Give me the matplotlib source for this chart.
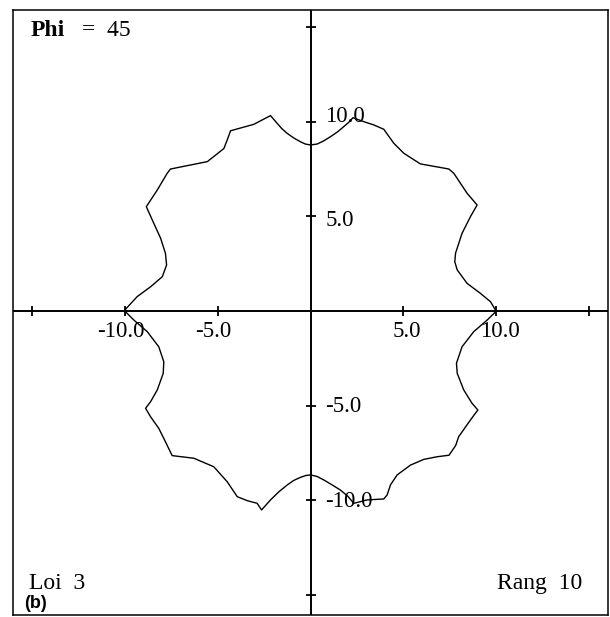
import matplotlib
matplotlib.use("Agg")
import matplotlib.pyplot as plt
from matplotlib.transforms import offset_copy

# Closed curve traced counter-clockwise, starting on the positive x axis
curve_x = [10.0, 9.95, 9.68, 9.14, 8.42, 7.89, 7.76, 7.80, 8.15, 8.60, 8.96, 8.42, 7.71, 7.44,
           5.91, 5.02, 4.48, 3.94, 3.40, 2.87, 2.28, 2.05, 1.79, 1.45, 1.08, 0.70, 0.36, 0.0,
           -0.28, -0.54, -0.90, -1.25, -1.55, -1.79, -2.15, -3.05, -4.30, -4.48, -4.66, -5.55,
           -7.53, -7.71, -8.24, -8.83, -8.51, -8.06, -7.80, -7.74, -7.97, -8.60, -9.32, -9.95,
           -9.95, -9.50, -8.78, -8.16, -7.89, -7.92, -8.24, -8.60, -8.87, -8.60, -8.16, -7.89,
           -7.44, -6.27, -5.20, -4.48, -3.94, -3.40, -2.87, -2.63, -2.15, -1.70, -1.25, -0.90,
           -0.54, -0.25, 0.0,
           0.35, 0.72, 1.15, 1.61, 2.00, 2.33, 3.05, 3.94, 4.12, 4.30, 4.66, 5.38, 6.09, 6.81,
           7.45, 7.81, 7.97, 8.60, 9.00, 8.69, 8.24, 7.89, 7.85, 8.15, 8.78, 9.50, 10.0]
curve_y = [0.0, 0.05, 0.49, 0.93, 1.46, 2.17, 2.60, 3.05, 4.10, 4.98, 5.60, 6.22, 7.27, 7.50,
           7.77, 8.33, 8.86, 9.60, 9.83, 10.0, 10.21, 9.96, 9.74, 9.46, 9.21, 8.98, 8.82, 8.77,
           8.82, 8.94, 9.14, 9.38, 9.64, 9.91, 10.32, 9.86, 9.52, 9.03, 8.58, 7.89,
           7.50, 7.27, 6.39, 5.51, 4.81, 3.84, 3.04, 2.43, 1.81, 1.28, 0.76, 0.09,
           -0.04, -0.48, -1.09, -1.89, -2.68, -3.29, -4.17, -4.79, -5.14, -5.59, -6.20, -6.73,
           -7.64, -7.78, -8.23, -9.02, -9.81, -10.02, -10.16, -10.51, -9.98, -9.55, -9.19, -8.95,
           -8.79, -8.69, -8.66,
           -8.74, -8.93, -9.18, -9.46, -9.78, -10.16, -9.98, -9.93, -9.72, -9.19, -8.66, -8.14,
           -7.84, -7.70, -7.62, -7.10, -6.64, -5.76, -5.23, -4.88, -4.17, -3.29, -2.76, -1.89,
           -1.09, -0.48, 0.0]

tick_values = [-15, -10, -5, 5, 10, 15]
labelled_ticks = [-10.0, -5.0, 5.0, 10.0]

W, H = 610, 617
fig = plt.figure(figsize=(W / 100, H / 100), dpi=100)
fig.patch.set_facecolor("white")

# Axes box in pixel terms: left 13, right 608, top 10, bottom 615
ax = fig.add_axes([13 / W, (H - 615) / H, 595 / W, 605 / H])
ax.set_xlim(-16, 16)
ax.set_ylim(-16.06, 15.90)
ax.set_xticks([])
ax.set_yticks([])
for sp in ax.spines.values():
    sp.set_linewidth(1.1)
    sp.set_color("black")

# Cartesian axes through the origin
ax.axhline(0, color="black", lw=1.4, zorder=2)
ax.axvline(0, color="black", lw=1.4, zorder=2)

# Cross-shaped tick marks
ax.plot(tick_values, [0] * len(tick_values), ls="none", marker="|", ms=7, mew=1.3, color="black")
ax.plot([0] * len(tick_values), tick_values, ls="none", marker="_", ms=7, mew=1.3, color="black")

serif = "Liberation Serif"
fs = 16.5

for v in labelled_ticks:
    dx = -4 if v < 0 else 3
    tr = offset_copy(ax.transData, fig=fig, x=dx * 0.72, y=-10 * 0.72, units="points")
    ax.text(v, 0, f"{v:.1f}", transform=tr, ha="center", va="top",
            family=serif, fontsize=fs, color="black")
    dy = 5 if v == 10 else (-4 if v == 5 else -1)
    tr2 = offset_copy(ax.transData, fig=fig, x=15 * 0.72, y=dy * 0.72, units="points")
    ax.text(0, v, f"{v:.1f}", transform=tr2, ha="left", va="center",
            family=serif, fontsize=fs, color="black")

# The curve
ax.plot(curve_x, curve_y, color="black", lw=1.0, zorder=3)

# Annotations
def px(x, y):
    return x / W, 1 - y / H

fig.text(*px(31, 35.5), "Phi", family=serif, fontweight="bold", fontsize=17,
         ha="left", va="baseline")
fig.text(*px(81.7, 35.5), "=  45", family=serif, fontsize=17, ha="left", va="baseline")
fig.text(*px(29, 589), "Loi  3", family=serif, fontsize=17, ha="left", va="baseline")
fig.text(*px(582.5, 589), "Rang  10", family=serif, fontsize=17, ha="right", va="baseline")
fig.text(*px(24, 608), "(b)", family="Liberation Sans", fontweight="bold", fontsize=13,
         ha="left", va="baseline")

fig.savefig("out.png", dpi=100, facecolor="white")
